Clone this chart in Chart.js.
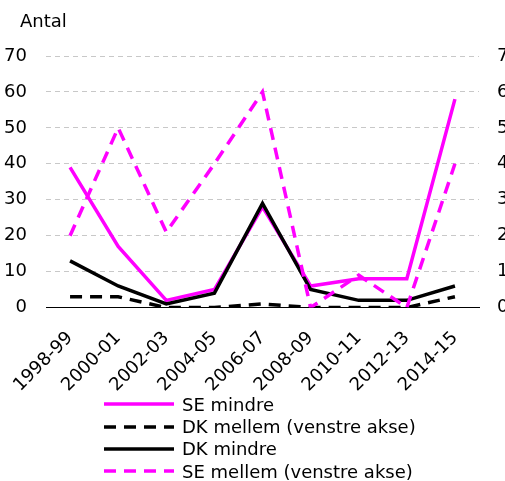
<!DOCTYPE html>
<html>
<head>
<meta charset="utf-8">
<script src="https://cdn.jsdelivr.net/npm/chart.js@4/dist/chart.umd.min.js"></script>
<style>
html, body { margin: 0; padding: 0; background: #fff; overflow: hidden; }
#wrap { position: relative; width: 505px; height: 481px; }
#legend { position: absolute; left: 104px; top: 393px; font-family: 'DejaVu Sans'; font-size: 18px; color: #000; }
#legend .row { height: 22.4px; display: flex; align-items: center; white-space: nowrap; }
#legend svg { margin-right: 8px; }
</style>
</head>
<body>
<div id="wrap">
    <canvas id="chart"></canvas>
    <div id="legend"></div>
</div>
<script>
// données
const periods = ['1998-99', '2000-01', '2002-03', '2004-05', '2006-07', '2008-09', '2010-11', '2012-13', '2014-15'];
const seMindre = [39, 17, 2, 5, 28, 6, 8, 8, 58];
const dkMellem = [3, 3, 0, 0, 1, 0, 0, 0, 3];
const dkMindre = [13, 6, 1, 4, 29, 5, 2, 2, 6];
const seMellem = [20, 50, 21, 40, 60, 0, 9, 0, 40];
const yMin = 0;
const yMax = 70;
const yStep = 10;

const magenta = '#ff00ff';
const black = '#000000';

Chart.defaults.font.family = 'DejaVu Sans';
Chart.defaults.font.size = 18;
Chart.defaults.color = '#000';

// titre "Antal" en haut à gauche
const antalTitle = {
    id: 'antalTitle',
    afterDraw(chart) {
        const ctx = chart.ctx;
        ctx.save();
        ctx.font = '18px "DejaVu Sans"';
        ctx.fillStyle = '#000';
        ctx.textBaseline = 'middle';
        ctx.fillText('Antal', 20, 22);
        ctx.restore();
    }
};

const ctx = document.getElementById('chart').getContext('2d');
const chart = new Chart(ctx, {
    type: 'line',
    data: {
        labels: periods,
        datasets: [{
            label: 'SE mindre',
            data: seMindre,
            borderColor: magenta,
            borderWidth: 3.5,
            yAxisID: 'y1',
            order: 2
        }, {
            label: 'DK mellem (venstre akse)',
            data: dkMellem,
            borderColor: black,
            borderWidth: 3.5,
            borderDash: [12, 8],
            yAxisID: 'y',
            order: 3
        }, {
            label: 'DK mindre',
            data: dkMindre,
            borderColor: black,
            borderWidth: 3.5,
            yAxisID: 'y1',
            order: 1
        }, {
            label: 'SE mellem (venstre akse)',
            data: seMellem,
            borderColor: magenta,
            borderWidth: 3.5,
            borderDash: [12, 8],
            yAxisID: 'y',
            order: 0
        }]
    },
    options: {
        responsive: true,
        maintainAspectRatio: false,
        animation: false,
        layout: {
            padding: { top: 56, bottom: 73 }
        },
        elements: {
            point: { radius: 0 },
            line: { tension: 0, fill: false, borderCapStyle: 'butt' }
        },
        plugins: {
            legend: { display: false },
            tooltip: { enabled: false }
        },
        scales: {
            x: {
                offset: true,
                grid: { display: false },
                border: { display: true, color: '#000', width: 1 },
                ticks: { maxRotation: 45, minRotation: 45, padding: 12, autoSkip: false }
            },
            y: {
                position: 'left',
                min: yMin,
                max: yMax,
                grid: { color: '#c8c8c8', lineWidth: 1, drawTicks: false },
                border: { display: false, dash: [5, 4] },
                ticks: { stepSize: yStep, padding: 19 },
                afterFit(scale) { scale.width = 46; }
            },
            y1: {
                position: 'right',
                min: yMin,
                max: yMax,
                grid: { drawOnChartArea: false, drawTicks: false },
                border: { display: false },
                ticks: { stepSize: yStep, padding: 18 },
                afterFit(scale) { scale.width = 26; }
            }
        }
    },
    plugins: [antalTitle]
});

// légende en colonne, construite à partir des datasets
const legend = document.getElementById('legend');
chart.data.datasets.forEach(ds => {
    const row = document.createElement('div');
    row.className = 'row';
    const dash = ds.borderDash ? 'stroke-dasharray="12 8"' : '';
    row.innerHTML = '<svg width="70" height="6"><line x1="0" y1="3" x2="70" y2="3" stroke="' + ds.borderColor +
        '" stroke-width="3.5" ' + dash + '/></svg><span>' + ds.label + '</span>';
    legend.appendChild(row);
});
</script>
</body>
</html>
